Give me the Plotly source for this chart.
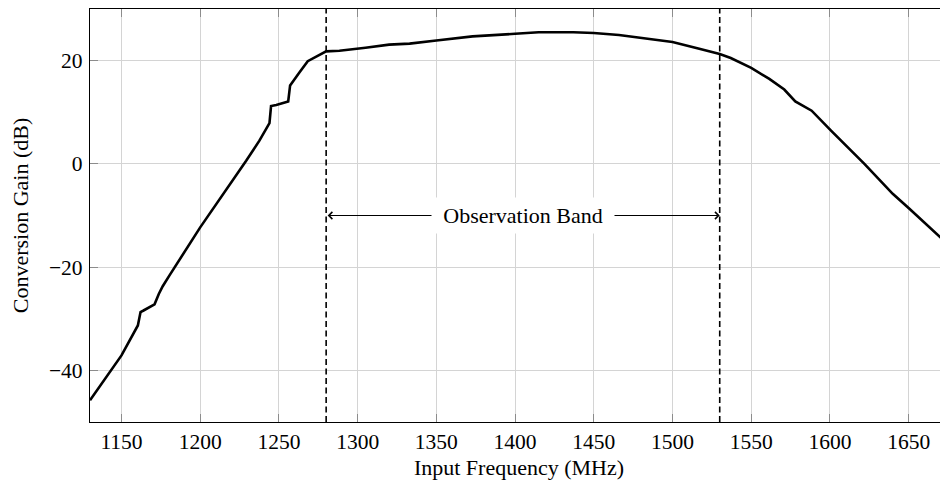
import plotly.graph_objects as go

# Data
freq_mhz = [1130, 1136, 1143.5, 1150, 1160.4, 1162.1, 1164, 1171, 1173.7, 1176.2,
            1180.5, 1200, 1229.2, 1237.6, 1244, 1245, 1248.3, 1255.9, 1257.1, 1259.9,
            1263, 1268.3, 1280, 1288.4, 1300, 1305, 1320, 1333, 1350, 1373,
            1400, 1415, 1437, 1450, 1466, 1500, 1517, 1530, 1537, 1550,
            1561.5, 1571, 1578, 1588.4, 1600.7, 1621.9, 1639.9, 1650.5, 1675]
gain_db = [-45.8, -43.2, -40, -37.1, -31.3, -28.7, -28.4, -27.2, -25.2, -23.7,
           -21.6, -12.3, 0.6, 4.5, 7.9, 11.2, 11.4, 12.1, 15.2, 16.3,
           17.7, 19.9, 21.8, 21.9, 22.25, 22.5, 23.1, 23.3, 23.9, 24.7,
           25.2, 25.5, 25.5, 25.35, 24.95, 23.6, 22.3, 21.3, 20.5, 18.6,
           16.45, 14.4, 12.1, 10.3, 6.45, 0, -5.8, -8.7, -15.6]

band_edges = [1280, 1530]
band_label = "Observation Band"
band_label_level = -10

x_ticks = [1150, 1200, 1250, 1300, 1350, 1400, 1450, 1500, 1550, 1600, 1650]
y_ticks = [-40, -20, 0, 20]
x_range = [1130, 1675]
y_range = [-50, 30]

FONT = "Liberation Serif, Times New Roman, serif"

fig = go.Figure()
fig.add_trace(go.Scatter(x=freq_mhz, y=gain_db, mode="lines",
                         line=dict(color="black", width=2.6),
                         showlegend=False, hoverinfo="skip"))

for xe in band_edges:
    fig.add_shape(type="line", xref="x", yref="y", x0=xe, x1=xe,
                  y0=y_range[0], y1=y_range[1],
                  line=dict(color="black", width=1.6, dash="6px,3.5px"))

# double-headed arrow between band edges
fig.add_annotation(x=band_edges[1], y=band_label_level,
                   ax=band_edges[0], ay=band_label_level,
                   xref="x", yref="y", axref="x", ayref="y",
                   text="", showarrow=True, arrowside="end+start",
                   arrowhead=4, startarrowhead=4, arrowsize=1.4, startarrowsize=1.4,
                   arrowwidth=1, arrowcolor="black", standoff=0, startstandoff=0)
fig.add_annotation(x=(band_edges[0] + band_edges[1]) / 2, y=band_label_level,
                   xref="x", yref="y", text=band_label, showarrow=False,
                   bgcolor="white", borderpad=5, width=172,
                   font=dict(family=FONT, size=22, color="black"))

axis_common = dict(showgrid=True, gridcolor="#d4d4d4", gridwidth=1,
                   zeroline=False, showline=True, linecolor="black", linewidth=1.2,
                   ticks="inside", ticklen=8, tickcolor="#8c8c8c", tickwidth=1,
                   tickfont=dict(family=FONT, size=21.5, color="black"))

fig.update_xaxes(range=x_range, tickvals=x_ticks, mirror="ticks",
                 title=dict(text="Input Frequency (MHz)",
                            font=dict(family=FONT, size=22, color="black"),
                            standoff=6),
                 **axis_common)
fig.update_yaxes(range=y_range, tickvals=y_ticks, mirror=False,
                 ticklabelstandoff=2,
                 title=dict(text="Conversion Gain (dB)",
                            font=dict(family=FONT, size=22, color="black"),
                            standoff=16),
                 **axis_common)

# the page body adds an 8px offset; the figure is sized so the plot area
# lands where the reference's does
fig.update_layout(width=940, height=472,
                  margin=dict(l=82, r=0, t=1, b=58, autoexpand=False),
                  plot_bgcolor="white", paper_bgcolor="white",
                  font=dict(family=FONT, color="black"))

fig.write_html("out.html")
